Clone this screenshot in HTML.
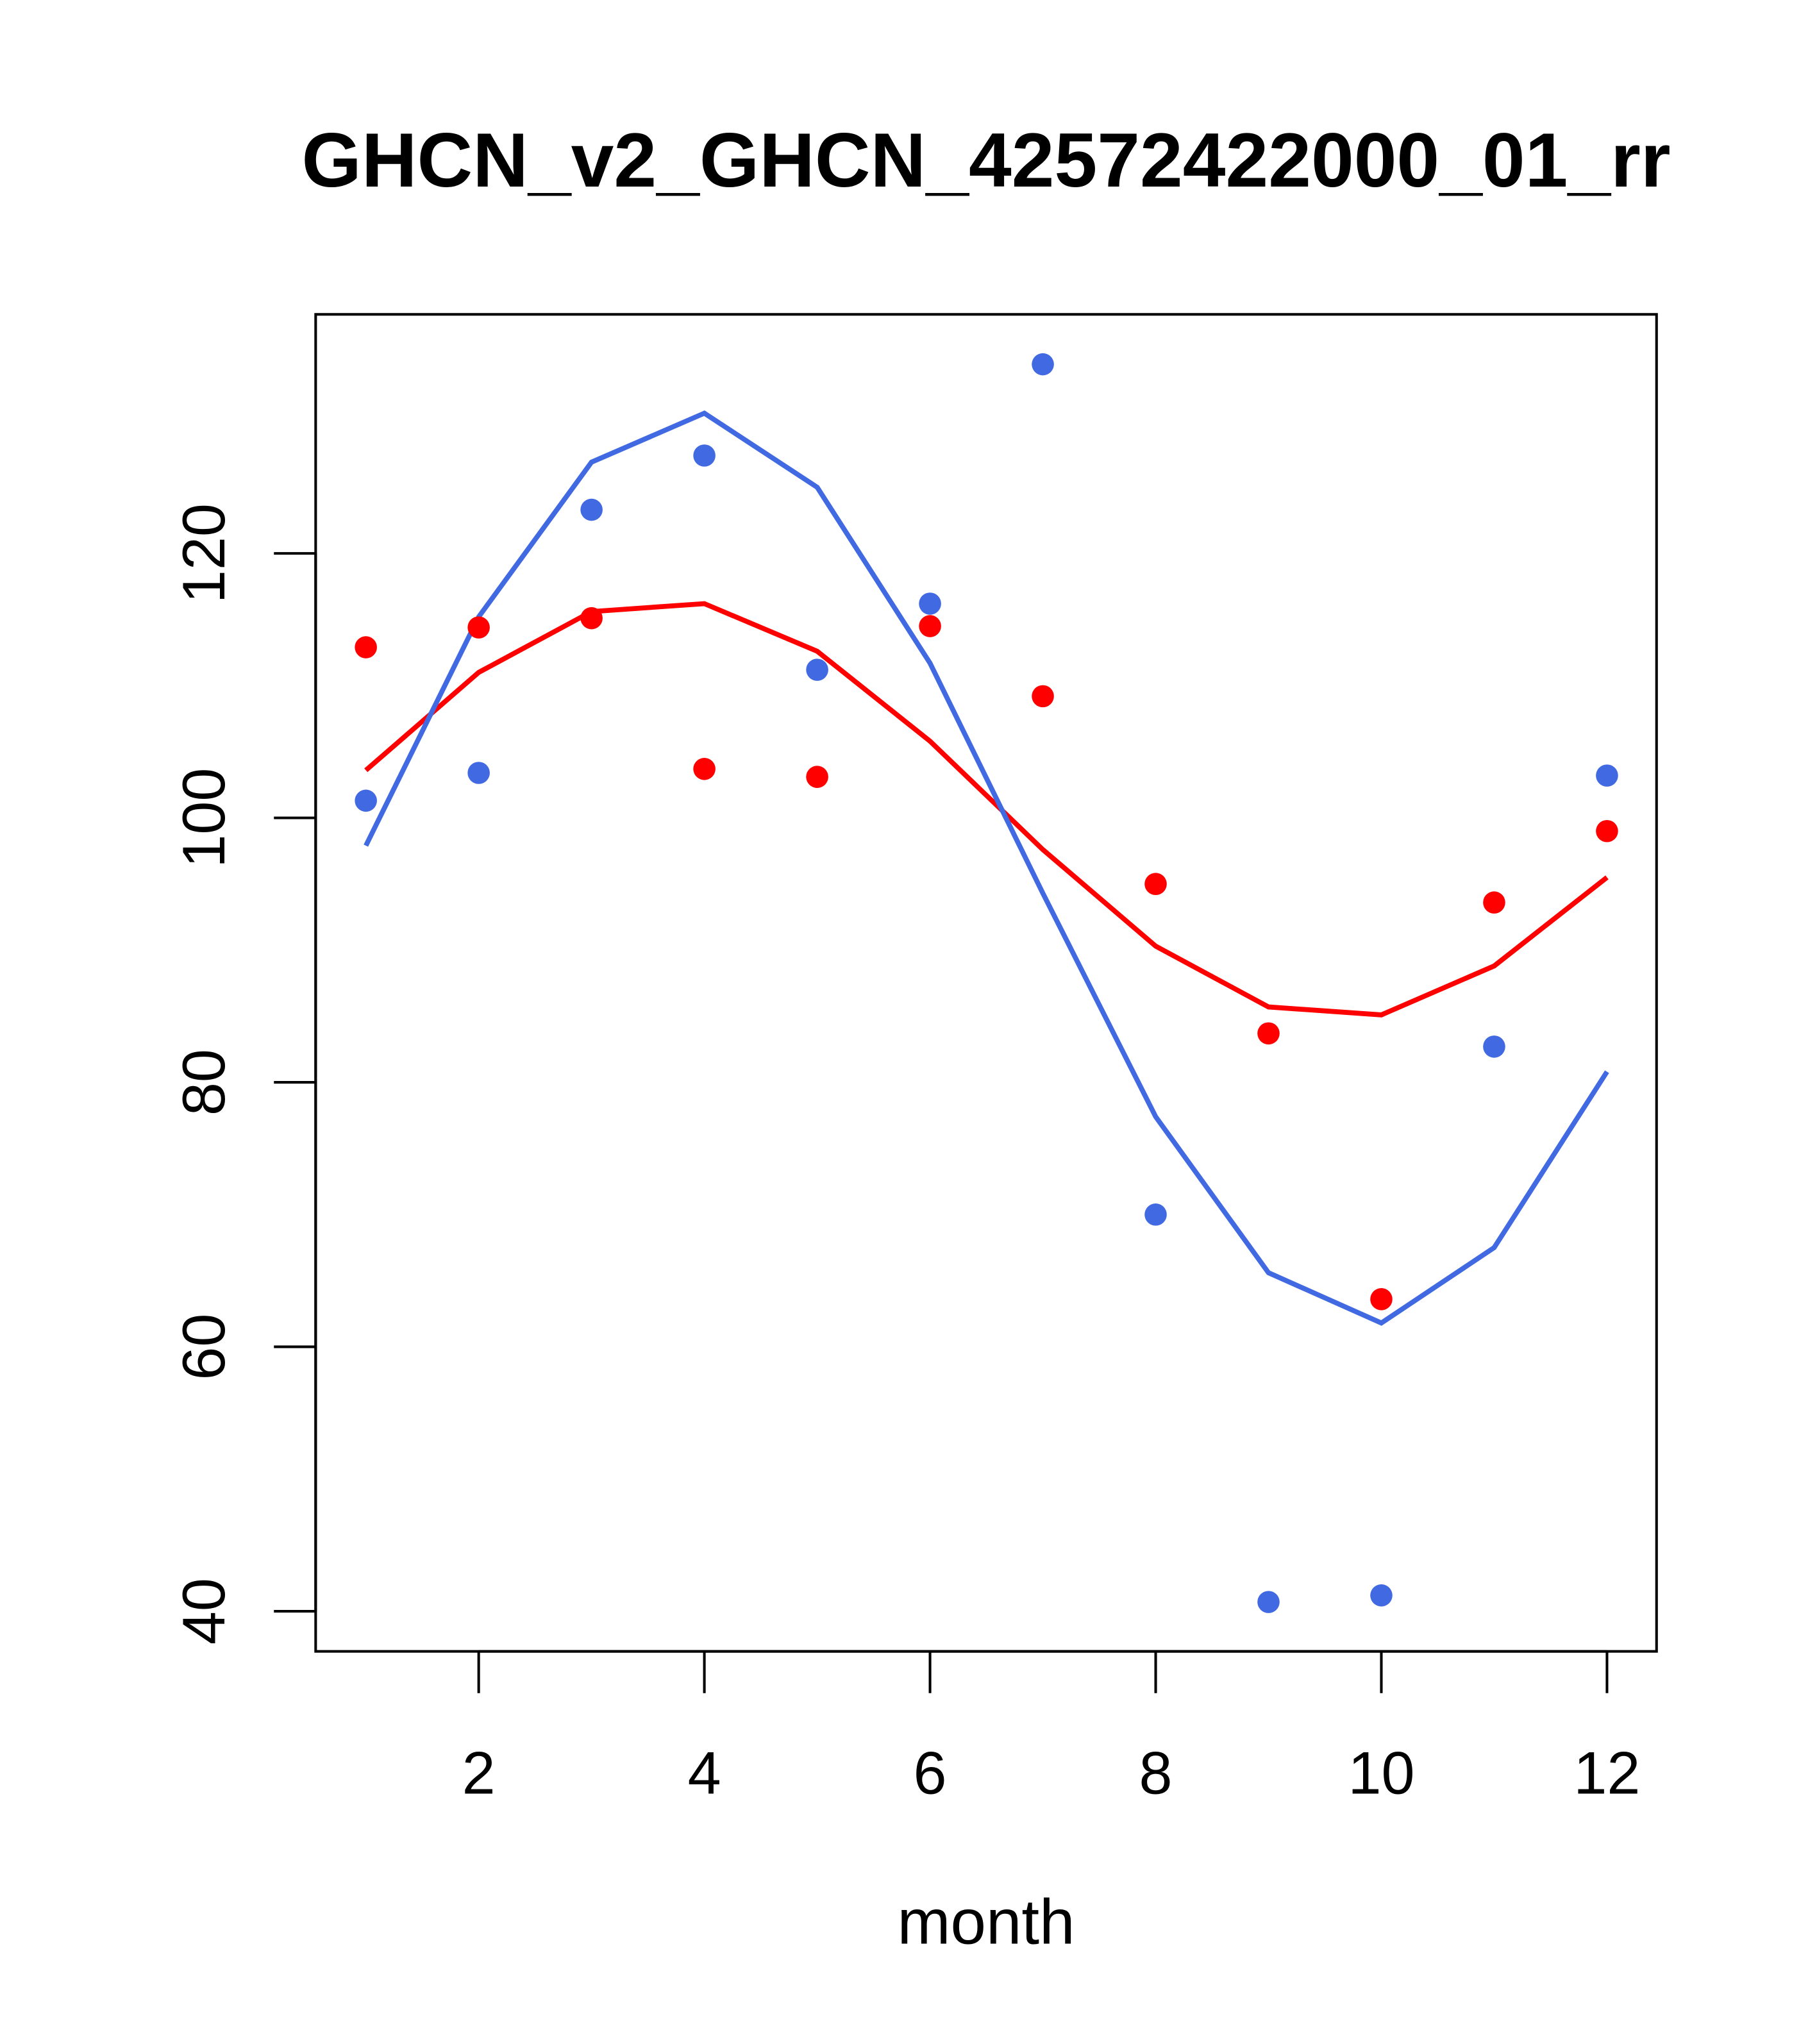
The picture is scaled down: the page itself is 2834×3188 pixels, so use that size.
<!DOCTYPE html>
<html>
<head>
<meta charset="utf-8">
<style>
html,body{margin:0;padding:0;background:#fff;}
svg{display:block;}
text{font-family:"Liberation Sans",Arial,sans-serif;fill:#000;}
</style>
</head>
<body>
<svg id="chart" width="2834" height="3188" viewBox="0 0 1393 1567" xmlns="http://www.w3.org/2000/svg">
<rect width="1393" height="1567" fill="#fff"/>
<text x="756" y="143" font-size="59" font-weight="bold" text-anchor="middle">GHCN_v2_GHCN_42572422000_01_rr</text>
<rect x="242" y="241" width="1028" height="1025" fill="none" stroke="#000" stroke-width="2"/>
<g id="xaxis"></g>
<g id="yaxis"></g>
<text x="756" y="1490" font-size="49" text-anchor="middle">month</text>
<g id="series"></g>
</svg>
<script>
const months = [1,2,3,4,5,6,7,8,9,10,11,12];
const blueObs = [101.3,103.4,123.3,127.4,111.2,116.2,134.3,70.0,40.7,41.2,82.7,103.2];
const blueFit = [97.9,115.2,126.9,130.6,125.0,111.7,94.3,77.4,65.6,61.8,67.5,80.8];
const redObs = [112.9,114.4,115.1,103.7,103.1,114.5,109.2,95.0,83.7,63.6,93.6,99.0];
const redFit = [103.6,111.0,115.6,116.2,112.6,105.8,97.6,90.3,85.7,85.1,88.8,95.5];
const xTicks = [2,4,6,8,10,12];
const yTicks = [40,60,80,100,120];

const NS = "http://www.w3.org/2000/svg";
function xs(m){ return 280.5 + (m-1)*86.5; }
function ys(v){ return 627 - (v-100)*10.1375; }
function mk(tag, attrs, parent){
  const e = document.createElementNS(NS, tag);
  for (const k in attrs) e.setAttribute(k, attrs[k]);
  parent.appendChild(e);
  return e;
}
const xa = document.getElementById('xaxis');
const ya = document.getElementById('yaxis');
const se = document.getElementById('series');

mk('line',{x1:xs(2),x2:xs(12),y1:1266,y2:1266,stroke:'#000','stroke-width':2},xa);
xTicks.forEach(t=>{
  const l = mk('line',{x1:xs(t),x2:xs(t),y1:1266,y2:1298,stroke:'#000','stroke-width':2},xa);
  
  
  const tx = mk('text',{x:xs(t),y:1375,'font-size':46,'text-anchor':'middle'},xa);
  tx.textContent = t;
  
  
});
mk('line',{x1:242,x2:242,y1:ys(40),y2:ys(120),stroke:'#000','stroke-width':2},ya);
yTicks.forEach(t=>{
  const y = ys(t);
  const l = mk('line',{x1:210,x2:242,y1:y,y2:y,stroke:'#000','stroke-width':2},ya);
  
  
  const tx = mk('text',{x:0,y:0,'font-size':46,'text-anchor':'middle',transform:`translate(172,${y}) rotate(-90)`},ya);
  tx.textContent = t;
  
  
});

function line(vals, color, name){
  const p = mk('polyline',{points:vals.map((v,i)=>xs(months[i])+','+ys(v)).join(' '),fill:'none',stroke:color,'stroke-width':3.8},se);
  
  
}
function pts(vals, color, name){
  vals.forEach((v,i)=>{
    const c = mk('circle',{cx:xs(months[i]),cy:ys(v),r:8.5,fill:color},se);
    
    
  });
}
line(redFit,'#ff0000','red-fit-line');
line(blueFit,'#4169e1','blue-fit-line');
pts(blueObs,'#4169e1','blue-point');
pts(redObs,'#ff0000','red-point');
</script>
</body>
</html>
